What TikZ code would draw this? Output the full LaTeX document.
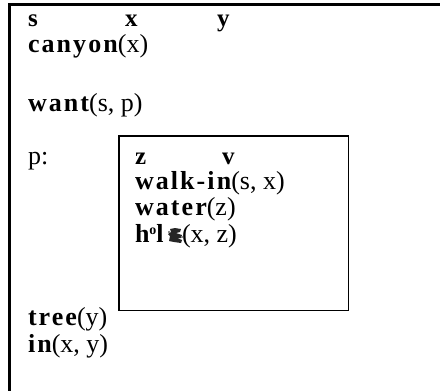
\documentclass[tikz,border=0pt]{standalone}
\usepackage{fontspec}
\setmainfont{Liberation Serif}
\newfontface\predfont{Liberation Serif Bold}[LetterSpace=8]
\newcommand\pr[1]{{\predfont #1}}
\begin{document}
\begin{tikzpicture}[x=1pt,y=-1pt,
  txt/.style={anchor=base west, inner sep=0pt, outer sep=0pt, font=\fontsize{26}{26}\selectfont, text height=17pt, text depth=5pt},
  var/.style={anchor=base west, inner sep=0pt, outer sep=0pt, font=\fontsize{25}{25}\selectfont\bfseries, text depth=0pt},
  frame/.style={line width=3pt},
  subbox/.style={draw, line width=1.6pt}]
\useasboundingbox (0,0) rectangle (440,391);
% outer frame (left and top sides)
\draw[frame] (9,395) -- (9,4) -- (445,4);
% outer DRS
\node[var] (vs) at (28,26) {s};
\node[var] (vx) at (125,26) {x};
\node[var] (vy) at (217,26) {y};
\node[txt] (c1) at (28,52) {\pr{canyon}(x)};
\node[txt] (c2) at (28,111) {\pr{want}(s, p)};
\node[txt] (pl) at (28,164) {p:};
\node[txt] (c3) at (28,325) {\pr{tree}(y)};
\node[txt] (c4) at (28,352) {\pr{in}(x, y)};
% inner DRS box
\node[subbox, inner sep=0pt, anchor=north west, minimum width=229.5pt, minimum height=174.5pt] (box) at (118,135) {};
\node[var] (vz) at (135,164) {z};
\node[var] (vv) at (222,164) {v};
\node[txt] (d1) at (135,189) {\pr{walk-in}(s, x)};
\node[txt] (d2) at (135,215) {\pr{water}(z)};
\node[txt] (d3a) at (135,242) {\pr{h}\raisebox{8pt}{\fontsize{14}{14}\selectfont\bfseries o}\pr{l}};
\node[txt] (d3b) at (182,242) {(x, z)};
% smudged glyph
\fill[black!85] (169,241) -- (170,236) -- (168,234) -- (171,232) -- (170,229) -- (175,228) -- (181,229) -- (180,232) -- (176,233) -- (182,235) -- (181,238) -- (177,238) -- (182,240) -- (181,243) -- (174,242) -- cycle;
\fill[black!45] (168,231) rectangle (170,233);
\fill[black!45] (181,236) rectangle (183,238);
\end{tikzpicture}
\end{document}
